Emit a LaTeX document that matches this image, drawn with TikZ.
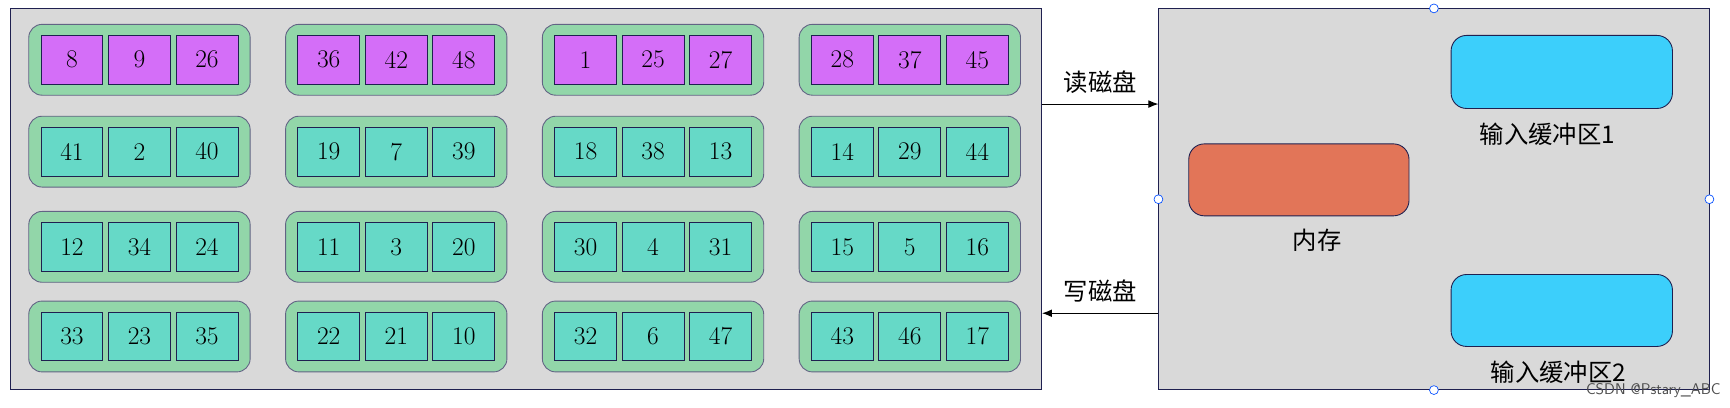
\documentclass[tikz,border=0pt]{standalone}
\usepackage{fontspec}
\usetikzlibrary{arrows.meta}
\newfontfamily\cjk{Noto Sans CJK SC}
\definecolor{bg}{HTML}{D9D9D9}
\definecolor{bd}{HTML}{1F2050}
\definecolor{grp}{HTML}{92D6A9}
\definecolor{pur}{HTML}{D46EF8}
\definecolor{tea}{HTML}{66D9C7}
\definecolor{sky}{HTML}{3CCFFB}
\definecolor{ora}{HTML}{E27558}
\tikzset{
 panel/.style={draw=bd,fill=bg,line width=0.8pt},
 grpbox/.style={draw=bd!70,fill=grp,rounded corners=12pt,line width=0.8pt},
 cell/.style={draw=bd,line width=0.8pt,minimum width=56pt,minimum height=44pt,inner sep=0pt,font=\fontsize{23}{23}\selectfont},
 rbox/.style={draw=bd,line width=0.8pt,rounded corners=14pt},
 lbl/.style={font=\cjk\fontsize{22}{22}\selectfont},
 handle/.style={circle,draw=blue!70!cyan,fill=white,inner sep=0pt,minimum size=8pt,line width=0.6pt},
 arr/.style={-{Latex[length=9pt,width=7pt]},line width=0.9pt}
}
\begin{document}
\begin{tikzpicture}[x=1pt,y=-1pt]
\useasboundingbox (0,0) rectangle (1563,368);
\node[panel,minimum width=932pt,minimum height=344pt,inner sep=0pt] (disk) at (475,180) {};
\node[panel,minimum width=497pt,minimum height=344pt,inner sep=0pt] (mem) at (1295.5,180) {};
\foreach \r/\yc in {0/54,1/137,2/223,3/304}{
 \foreach \c/\xc in {0/126,1/358,2/590,3/822}{
  \node[grpbox,minimum width=200pt,minimum height=64pt] (g\r\c) at (\xc,\yc) {};
 }
}
\foreach \xc/\a/\b/\cc [count=\i] in {126/8/9/26,358/36/42/48,590/1/25/27,822/28/37/45}{
 \node[cell,fill=pur] (p\i a) at (\xc-61,54) {\a};
 \node[cell,fill=pur] (p\i b) at (\xc,54) {\b};
 \node[cell,fill=pur] (p\i c) at (\xc+61,54) {\cc};
}
\foreach \xc/\yc/\a/\b/\cc [count=\i] in {
126/137/41/2/40,358/137/19/7/39,590/137/18/38/13,822/137/14/29/44,
126/223/12/34/24,358/223/11/3/20,590/223/30/4/31,822/223/15/5/16,
126/304/33/23/35,358/304/22/21/10,590/304/32/6/47,822/304/43/46/17}{
 \node[cell,fill=tea] (t\i a) at (\xc-61,\yc) {\a};
 \node[cell,fill=tea] (t\i b) at (\xc,\yc) {\b};
 \node[cell,fill=tea] (t\i c) at (\xc+61,\yc) {\cc};
}
\node[rbox,fill=sky,minimum width=200pt,minimum height=66pt] (in1) at (1411,65) {};
\node[lbl] (in1l) at (1398,121) {输入缓冲区1};
\node[rbox,fill=sky,minimum width=200pt,minimum height=65pt] (in2) at (1411,280.5) {};
\node[lbl] (in2l) at (1408,336) {输入缓冲区2};
\node[rbox,fill=ora,minimum width=199pt,minimum height=65pt] (ram) at (1173.5,162.5) {};
\node[lbl] (raml) at (1190,217) {内存};
\coordinate (r1) at (disk.east |- 0,94);
\coordinate (r2) at (mem.west |- 0,94);
\draw[arr] (r1) -- (r2) node[midway,above=6pt,lbl] (rl) {读磁盘};
\coordinate (w1) at (mem.west |- 0,283);
\coordinate (w2) at (disk.east |- 0,283);
\draw[arr] (w1) -- (w2) node[midway,above=6pt,lbl] (wl) {写磁盘};
\node[handle] (h1) at (mem.north) {};
\node[handle] (h2) at (mem.south) {};
\node[handle] (h3) at (mem.west) {};
\node[handle] (h4) at (mem.east) {};
\node[text=gray!60!black,font=\sffamily\fontsize{14}{14}\selectfont,anchor=east] (wm) at (1558,353) {CSDN @Pstary\_ABC};
\end{tikzpicture}
\end{document}
